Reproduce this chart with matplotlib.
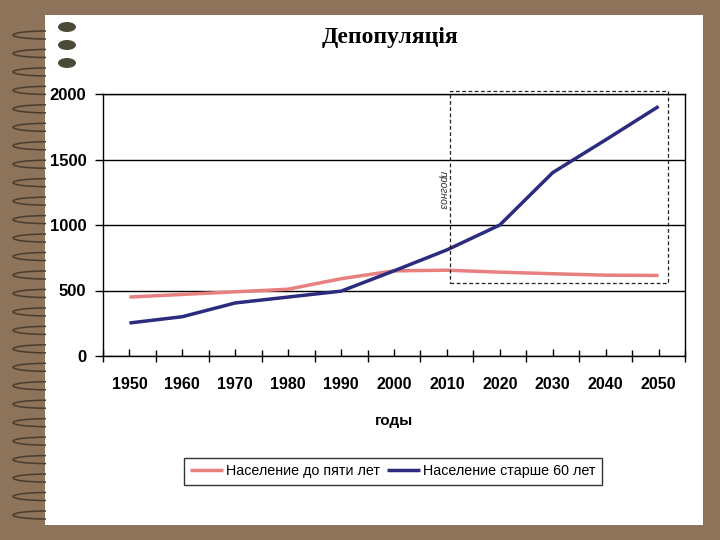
import numpy as np
import matplotlib.pyplot as plt
from matplotlib.patches import Rectangle, Ellipse, Arc

# data
years = [1950, 1960, 1970, 1980, 1990, 2000, 2010, 2020, 2030, 2040, 2050]
under5 = [450, 470, 490, 510, 590, 650, 655, 640, 628, 617, 615]
over60 = [252, 300, 405, 450, 495, 650, 810, 1000, 1400, 1650, 1905]
yticks = [0, 500, 1000, 1500, 2000]

W, H = 720, 540
fig = plt.figure(figsize=(7.2, 5.4), dpi=100)
fig.patch.set_facecolor('#8c735a')

def fx(px):
    return px / W

def fy(py):
    return 1 - py / H

# white page
fig.patches.append(Rectangle((fx(45), fy(525)), fx(703) - fx(45), fy(15) - fy(525),
                             transform=fig.transFigure, facecolor='white',
                             edgecolor='none', zorder=0))

# spiral binding rings
for yy in np.linspace(33, 513, 27):
    arc = Arc((fx(46), fy(yy + 2)), fx(66), 8 / H, theta1=90, theta2=270,
              transform=fig.transFigure, color='#4a3c2e', lw=1.1, zorder=1)
    fig.patches.append(arc)
for yy in [27, 45, 63]:
    fig.patches.append(Ellipse((fx(67), fy(yy)), fx(18), 10 / H,
                               transform=fig.transFigure, facecolor='#4a4a36',
                               edgecolor='none', zorder=1))

fig.text(fx(390), fy(38), 'Депопуляція', ha='center', va='center',
         family='Liberation Serif', fontweight='bold', fontsize=17)

ax = fig.add_axes([fx(103), fy(356), fx(685) - fx(103), fy(94) - fy(356)])
ax.set_facecolor('none')
ax.set_zorder(3)

ax.plot(years, under5, color='#e88080', lw=2.5, label='Население до пяти лет',
        solid_capstyle='butt')
ax.plot(years, over60, color='#2b2b80', lw=2.5, label='Население старше 60 лет',
        solid_capstyle='butt')

ax.set_xlim(1945, 2055)
ax.set_ylim(0, 2000)
ax.set_yticks(yticks)
ax.set_xticks(np.arange(1945, 2056, 10))
ax.set_xticklabels([])
ax.set_xticks(years, minor=True)
ax.set_xticklabels([str(y) for y in years], minor=True)
ax.tick_params(axis='x', which='major', direction='inout', length=9, width=1)
ax.tick_params(axis='x', which='minor', direction='in', length=5, width=1,
               pad=15, labelsize=11.5)
ax.tick_params(axis='y', direction='out', length=6, width=1, pad=6, labelsize=12)
for lab in ax.get_xticklabels(minor=True) + ax.get_yticklabels():
    lab.set_fontweight('bold')
    lab.set_family('Liberation Sans')
ax.grid(axis='y', color='black', lw=1)
for s in ax.spines.values():
    s.set_color('black')
    s.set_linewidth(1)
ax.set_xlabel('годы', fontsize=11, fontweight='bold', family='Liberation Sans',
              labelpad=16)

# forecast box
ax.add_patch(Rectangle((2010.6, 557), 41.2, 1466, fill=False, ls=(0, (3, 2)),
                       lw=0.9, edgecolor='#222222', clip_on=False, zorder=5))
ax.text(2009.3, 1267, 'прогноз', rotation=270, ha='center', va='center',
        fontsize=7.5, style='italic', color='#333333', family='Liberation Sans')

leg = fig.legend(loc='center', bbox_to_anchor=(fx(393), fy(471.5)), ncol=2,
                 frameon=True, fancybox=False, edgecolor='black',
                 handlelength=2.3, handletextpad=0.2, columnspacing=0.5,
                 borderpad=0.45, prop={'family': 'Liberation Sans', 'size': 10.3})
leg.get_frame().set_linewidth(1)
leg.set_zorder(4)

fig.savefig('out.png', dpi=100, facecolor=fig.get_facecolor())
